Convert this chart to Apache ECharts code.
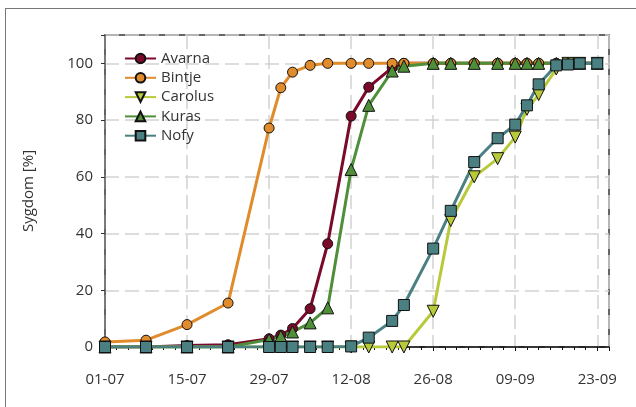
<!DOCTYPE html>
<html>
<head>
<meta charset="utf-8">
<script src="https://cdn.jsdelivr.net/npm/echarts@6/dist/echarts.min.js"></script>
<style>
html, body { margin: 0; padding: 0; background: #fff; }
#frame { position: absolute; left: 5px; top: 8px; width: 700px; height: 500px; border-left: 1.5px solid #777; border-top: 1.5px solid #777; }
#main { position: absolute; left: 0; top: 0; width: 636px; height: 407px; }
</style>
</head>
<body>
<div id="frame"></div>
<div id="main"></div>
<script>
// dage efter 01-07
var days = [0, 7, 14, 21, 28, 30, 32, 35, 38, 42, 45, 49, 51, 56, 59, 63, 67, 70, 72, 74, 77, 79, 81, 84]
var tickLabels = ['01-07', '15-07', '29-07', '12-08', '26-08', '09-09', '23-09']

var avarna  = [0, 0, 0.5, 0.8, 2.9, 4.2, 6.5, 13.5, 36.4, 81.4, 91.6, 98.5, 100, 100, 100, 100, 100, 100, 100, 100, 100, 100, 100, 100]
var bintje  = [1.8, 2.4, 7.9, 15.5, 77.2, 91.4, 96.9, 99.3, 100, 100, 100, 100, 100, 100, 100, 100, 100, 100, 100, 100, 100, 100, 100, 100]
var carolus = [0, 0, 0, 0, 0, 0, 0, 0, 0, 0, 0, 0, 0, 12.6, 44.6, 60, 66.4, 74, 83.8, 89, 98, 100, 100, 100]
var kuras   = [0, 0, 0, 0, 2.6, 3.8, 5.3, 8.5, 13.8, 62.6, 85.2, 97.3, 99, 100, 100, 100, 100, 100, 100, 100, 100, 100, 100, 100]
var nofy    = [0, 0, 0, 0, 0, 0, 0, 0, 0, 0.2, 3.3, 9.2, 14.8, 34.7, 48, 65.2, 73.6, 78.4, 85.2, 92.6, 99.3, 99.6, 100, 100]

function pairs(vals) {
    return days.map(function (d, i) { return [d, vals[i]] })
}

function mkSeries(name, vals, color, symbol, size, rotate) {
    return {
        name: name,
        type: 'line',
        data: pairs(vals),
        symbol: symbol,
        symbolSize: size,
        symbolRotate: rotate || 0,
        showAllSymbol: true,
        lineStyle: { color: color, width: 3 },
        itemStyle: { color: color, borderColor: '#111', borderWidth: 1 },
        emphasis: { disabled: true },
        animation: false
    }
}

var myChart = echarts.init(document.getElementById('main'))
var font = 'Open Sans'

var option = {
    animation: false,
    legend: {
        orient: 'vertical',
        left: 119,
        top: 46,
        itemWidth: 31,
        itemHeight: 12,
        itemGap: 4.3,
        textStyle: { fontFamily: font, fontSize: 15, color: '#333' },
        data: ['Avarna', 'Bintje', 'Carolus', 'Kuras', 'Nofy']
    },
    grid: {
        left: 105, right: 27, top: 35, bottom: 60,
        show: true, borderColor: '#333', borderWidth: 1.5
    },
    xAxis: {
        type: 'value',
        min: 0, max: 86, interval: 14,
        axisLine: { lineStyle: { color: '#111', width: 1.5 } },
        axisTick: { show: true, inside: false, length: 4, lineStyle: { color: '#111' } },
        minorTick: { show: true, splitNumber: 7, length: 3, lineStyle: { color: '#111' } },
        axisLabel: {
            fontFamily: font, fontSize: 15, color: '#333', margin: 25,
            showMaxLabel: false,
            formatter: function (v) { return tickLabels[v / 14] || '' }
        },
        splitLine: { show: true, lineStyle: { color: '#d2d2d2', width: 1.5, type: [14, 6] } }
    },
    yAxis: {
        type: 'value',
        min: 0, max: 110, interval: 20,
        name: 'Sygdom [%]',
        nameLocation: 'middle',
        nameGap: 69,
        nameTextStyle: { fontFamily: font, fontSize: 15, color: '#333' },
        axisLine: { show: true, lineStyle: { color: '#666', width: 1.5 } },
        axisTick: { show: true, inside: false, length: 4, lineStyle: { color: '#333' } },
        axisLabel: {
            fontFamily: font, fontSize: 15, color: '#333', margin: 12,
            formatter: function (v) { return v > 100 ? '' : v }
        },
        splitLine: { show: true, lineStyle: { color: '#d2d2d2', width: 1.5, type: [14, 6] } }
    },
    series: [
        mkSeries('Avarna', avarna, '#7a0a2a', 'circle', 10),
        mkSeries('Bintje', bintje, '#e08b2c', 'circle', 10),
        mkSeries('Carolus', carolus, '#b8c93a', 'triangle', 12, 180),
        mkSeries('Kuras', kuras, '#4f8f3a', 'triangle', 12),
        mkSeries('Nofy', nofy, '#4b8083', 'rect', 11)
    ]
}

myChart.setOption(option)
</script>
</body>
</html>
